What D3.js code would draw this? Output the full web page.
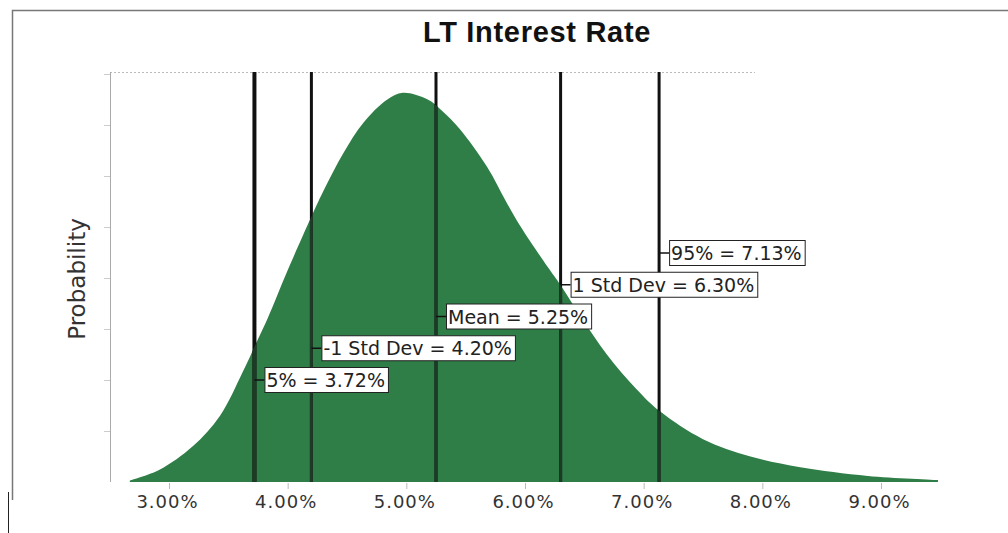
<!DOCTYPE html>
<html>
<head>
<meta charset="utf-8">
<script src="https://cdn.jsdelivr.net/npm/d3@7"></script>
<style>
  html, body { margin: 0; padding: 0; background: #fff; }
  svg { display: block; }
  .tick-label { font-family: "DejaVu Sans", sans-serif; font-size: 18px; letter-spacing: 1px; fill: #333; }
  .marker-label { font-family: "DejaVu Sans", sans-serif; font-size: 19px; fill: #222; }
</style>
</head>
<body>
<div id="chart"></div>
<script>
// interest rate (%) and relative probability
const ratePct = [2.67, 2.92, 3.20, 3.43, 3.62, 3.74, 3.83, 4.00, 4.19, 4.30, 4.47, 4.64, 4.84, 4.97,
  5.18, 5.30, 5.45, 5.68, 5.84, 5.96, 6.19, 6.30, 6.46, 6.69, 6.94, 7.14, 7.50, 7.90, 8.32, 8.89, 9.48];
const probability = [0.03, 0.24, 0.70, 1.30, 2.15, 2.75, 3.20, 4.15, 5.15, 5.70, 6.45, 7.05, 7.50, 7.63,
  7.50, 7.28, 6.92, 6.18, 5.50, 5.02, 4.22, 3.86, 3.28, 2.50, 1.82, 1.38, 0.84, 0.50, 0.29, 0.12, 0.04];

const markerNames = ["5%", "-1 Std Dev", "Mean", "1 Std Dev", "95%"];
const markerValues = [3.72, 4.20, 5.25, 6.30, 7.13];

const xTicks = [3, 4, 5, 6, 7, 8, 9];
const yTicks = [1, 2, 3, 4, 5, 6, 7, 8];

const title = "LT Interest Rate";
const yTitle = "Probability";

const width = 1008;
const height = 533;
const plot = { left: 110, top: 72, bottom: 482, frameRight: 755 };

const x = d3.scaleLinear().domain([3, 9]).range([169, 881]);
const y = d3.scaleLinear().domain([0, 8]).range([plot.bottom, plot.bottom - 8 * 51]);

const points = ratePct.map((d, i) => [d, probability[i]]);

const svg = d3.select("#chart").append("svg")
  .attr("width", width)
  .attr("height", height);

// scanned page frame
svg.append("path")
  .attr("d", `M12.5,500V10.5H${width}`)
  .attr("fill", "none")
  .attr("stroke", "#777")
  .attr("stroke-width", 1.5);
svg.append("line")
  .attr("x1", 8.5).attr("x2", 8.5).attr("y1", 492).attr("y2", height)
  .attr("stroke", "#222");

// plot frame top (dotted)
svg.append("line")
  .attr("x1", plot.left).attr("x2", plot.frameRight)
  .attr("y1", plot.top + 0.5).attr("y2", plot.top + 0.5)
  .attr("stroke", "#bbb")
  .attr("stroke-dasharray", "2,2");

// y axis, ticks only
svg.append("g")
  .attr("transform", `translate(${plot.left},0)`)
  .call(d3.axisLeft(y).tickValues(yTicks).tickFormat("").tickSize(6).tickSizeOuter(0))
  .call((g) => g.select(".domain").attr("stroke", "#aaa").attr("d", `M0.5,${plot.top}V${plot.bottom}`))
  .call((g) => g.selectAll(".tick line").attr("stroke", "#ccc"));

const area = d3.area()
  .x((d) => x(d[0]))
  .y0(y(0))
  .y1((d) => y(d[1]))
  .curve(d3.curveCatmullRom.alpha(0.5));

svg.append("clipPath")
  .attr("id", "under-curve")
  .append("path")
  .attr("d", area(points));

svg.append("path")
  .attr("class", "distribution")
  .attr("d", area(points))
  .attr("fill", "#2f7e47");

// marker lines: black above the curve, dark green inside it
const gLines = svg.append("g").attr("class", "markers");
gLines.selectAll("line")
  .data(markerValues)
  .join("line")
  .attr("x1", (d) => x(d)).attr("x2", (d) => x(d))
  .attr("y1", plot.top).attr("y2", plot.bottom)
  .attr("stroke", "#111")
  .attr("stroke-width", (d, i) => (i === 0 ? 4 : 3));
svg.append("g")
  .attr("clip-path", "url(#under-curve)")
  .selectAll("line")
  .data(markerValues)
  .join("line")
  .attr("x1", (d) => x(d)).attr("x2", (d) => x(d))
  .attr("y1", plot.top).attr("y2", plot.bottom)
  .attr("stroke", "#1d3a26")
  .attr("stroke-width", (d, i) => (i === 0 ? 4 : 3));

// x axis
svg.append("g")
  .attr("transform", `translate(0,${plot.bottom + 1})`)
  .call(d3.axisBottom(x).tickValues(xTicks).tickFormat((d) => d3.format(".2f")(d) + "%").tickSize(6).tickPadding(6))
  .call((g) => g.select(".domain").remove())
  .call((g) => g.selectAll(".tick line").attr("stroke", "#bbb"))
  .call((g) => g.selectAll(".tick text")
    .attr("class", "tick-label")
    .attr("font-family", null)
    .attr("font-size", null)
    .attr("fill", null)
    .attr("dx", -2));

// marker labels
const labelStep = 31.75;
const gLabels = svg.append("g").attr("class", "marker-labels");
markerValues.forEach((v, i) => {
  const cx = x(v);
  const cy = y(2) - i * labelStep;
  const bx = cx + 10;
  const g = gLabels.append("g");
  g.append("line")
    .attr("x1", cx).attr("x2", bx)
    .attr("y1", cy).attr("y2", cy)
    .attr("stroke", "#111")
    .attr("stroke-width", 1.5);
  const rect = g.append("rect")
    .attr("x", bx + 0.5)
    .attr("y", cy - 12.5)
    .attr("height", 25)
    .attr("fill", "#fff")
    .attr("stroke", "#222");
  const text = g.append("text")
    .attr("class", "marker-label")
    .attr("x", bx + 2)
    .attr("y", cy + 7)
    .text(`${markerNames[i]} = ${d3.format(".2f")(v)}%`);
  rect.attr("width", text.node().getComputedTextLength() + 5);
});

// titles
svg.append("text")
  .attr("x", 537)
  .attr("y", 42)
  .attr("text-anchor", "middle")
  .attr("font-family", "'Liberation Sans', Arial, sans-serif")
  .attr("font-weight", "bold")
  .attr("font-size", 29)
  .attr("letter-spacing", 0.7)
  .attr("fill", "#111")
  .text(title);

svg.append("text")
  .attr("transform", "translate(85,279) rotate(-90)")
  .attr("text-anchor", "middle")
  .attr("font-family", "'DejaVu Sans', sans-serif")
  .attr("font-size", 23)
  .attr("fill", "#333")
  .text(yTitle);
</script>
</body>
</html>
